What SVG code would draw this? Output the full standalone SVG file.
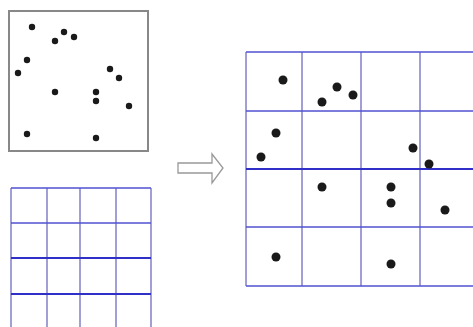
<svg xmlns="http://www.w3.org/2000/svg" width="473" height="327" viewBox="0 0 473 327">
<style>
.box{fill:none;stroke:#888;stroke-width:2}
.dot{fill:#1a1a1a}
.v{stroke:#8080c8;stroke-width:1.5}
.h{stroke:#5050d0;stroke-width:1.3}
.hb{stroke:#3030c8;stroke-width:2}
.arrow{fill:#fff;stroke:#999;stroke-width:1.3}
</style>
<rect width="473" height="327" fill="#fff"/>
<g id="points">
<rect class="box" x="9" y="11" width="139" height="140"/>
<g class="dot">
<circle cx="32" cy="27" r="3.2"/><circle cx="64" cy="32" r="3.2"/><circle cx="74" cy="37" r="3.2"/>
<circle cx="55" cy="41" r="3.2"/><circle cx="27" cy="60" r="3.2"/><circle cx="18" cy="73" r="3.2"/>
<circle cx="110" cy="69" r="3.2"/><circle cx="119" cy="78" r="3.2"/><circle cx="55" cy="92" r="3.2"/>
<circle cx="96" cy="92" r="3.2"/><circle cx="96" cy="101" r="3.2"/><circle cx="129" cy="106" r="3.2"/>
<circle cx="27" cy="134" r="3.2"/><circle cx="96" cy="138" r="3.2"/>
</g>
</g>
<g id="small-grid">
<line class="v" x1="11" y1="188" x2="11" y2="327"/>
<line class="v" x1="47" y1="188" x2="47" y2="327"/>
<line class="v" x1="80" y1="188" x2="80" y2="327"/>
<line class="v" x1="116" y1="188" x2="116" y2="327"/>
<line class="v" x1="151" y1="188" x2="151" y2="327"/>
<line class="h" x1="11" y1="188" x2="151" y2="188"/>
<line class="h" x1="11" y1="223" x2="151" y2="223"/>
<line class="hb" x1="11" y1="258" x2="151" y2="258"/>
<line class="hb" x1="11" y1="294" x2="151" y2="294"/>
</g>
<g id="arrow">
<path class="arrow" d="M178,163 H212 V154 L223,168 L212,183 V173 H178 Z"/>
</g>
<g id="big-grid">
<line class="v" x1="246" y1="52" x2="246" y2="286"/>
<line class="v" x1="302" y1="52" x2="302" y2="286"/>
<line class="v" x1="361" y1="52" x2="361" y2="286"/>
<line class="v" x1="420" y1="52" x2="420" y2="286"/>
<line class="h" x1="246" y1="52" x2="473" y2="52"/>
<line class="h" x1="246" y1="111" x2="473" y2="111"/>
<line class="hb" x1="246" y1="169" x2="473" y2="169"/>
<line class="h" x1="246" y1="227" x2="473" y2="227"/>
<line class="h" x1="246" y1="286" x2="473" y2="286"/>
<g class="dot">
<circle cx="283" cy="80" r="4.5"/><circle cx="337" cy="87" r="4.5"/><circle cx="353" cy="95" r="4.5"/>
<circle cx="322" cy="102" r="4.5"/><circle cx="276" cy="133" r="4.5"/><circle cx="261" cy="157" r="4.5"/>
<circle cx="413" cy="148" r="4.5"/><circle cx="429" cy="164" r="4.5"/><circle cx="322" cy="187" r="4.5"/>
<circle cx="391" cy="187" r="4.5"/><circle cx="391" cy="203" r="4.5"/><circle cx="445" cy="210" r="4.5"/>
<circle cx="276" cy="257" r="4.5"/><circle cx="391" cy="264" r="4.5"/>
</g>
</g>
</svg>
